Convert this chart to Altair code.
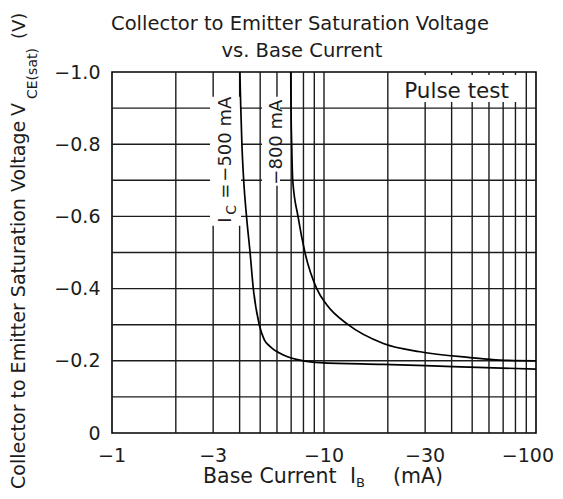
import altair as alt
import pandas as pd

# ---------------- data ----------------
# Base current IB (mA) and saturation voltage VCE(sat) (V)
ib_500 = [-4.01, -4.05, -4.10, -4.18, -4.31, -4.48, -4.64, -4.95, -5.23, -5.56, -6.43, -7.99, -9.58, -19.0, -40.6, -100.0]
vce_500 = [-1.0, -0.9, -0.8, -0.7, -0.6, -0.5, -0.4, -0.3, -0.258, -0.24, -0.216, -0.2, -0.195, -0.19, -0.184, -0.177]
ib_800 = [-6.97, -6.99, -7.04, -7.12, -7.54, -8.13, -9.24, -10.3, -13.0, -19.05, -28.4, -48.8, -67.6, -100.0]
vce_800 = [-1.0, -0.9, -0.8, -0.7, -0.6, -0.5, -0.4, -0.355, -0.3, -0.248, -0.225, -0.209, -0.202, -0.2]
ic_labels = ["-500 mA", "-800 mA"]

x_tick_values = [-1, -3, -10, -30, -100]
x_tick_labels = ["\u22121", "\u22123", "\u221210", "\u221230", "\u2212100"]
y_tick_values = [0, -0.2, -0.4, -0.6, -0.8, -1.0]
x_grid = [-2, -3, -4, -5, -6, -7, -8, -9, -10, -20, -30, -40, -50, -60, -70, -80, -90]
y_grid = [-0.1, -0.2, -0.3, -0.4, -0.5, -0.6, -0.7, -0.8, -0.9]

title_lines = ["Collector to Emitter Saturation Voltage", "vs. Base Current"]

# ---------------- layout / style ----------------
FONT = "DejaVu Sans"
INK = "#1c1c1c"
W, H = 424, 361

curves = pd.DataFrame({
    "IB": ib_500 + ib_800,
    "VCE": vce_500 + vce_800,
    "IC": [ic_labels[0]] * len(ib_500) + [ic_labels[1]] * len(ib_800),
})
curves["IBabs"] = -curves["IB"]

xscale = alt.Scale(type="log", domain=[1, 100], nice=False)
yscale = alt.Scale(domain=[0, -1], nice=False)

yaxis = alt.Axis(
    values=y_tick_values,
    labelExpr="datum.value == 0 ? '0' : '\u2212' + format(-datum.value, '.1f')",
    grid=False, ticks=False, tickSize=0, domain=False, title=None,
    labelFont=FONT, labelFontSize=19, labelColor=INK, labelPadding=12,
    labelOverlap=False, labelFlush=False, labelBound=False,
)


def X(field):
    return alt.X(field, type="quantitative", scale=xscale, axis=None)


def Y(field):
    return alt.Y(field, type="quantitative", scale=yscale, axis=yaxis)


grid_v = alt.Chart(pd.DataFrame({"g": [-v for v in x_grid]})).mark_rule(
    color=INK, strokeWidth=1.4
).encode(x=X("g"))

grid_h = alt.Chart(pd.DataFrame({"g": y_grid})).mark_rule(
    color=INK, strokeWidth=1.4
).encode(y=Y("g"))

# white backgrounds behind the in-plot labels (annotation geometry)
boxes = pd.DataFrame({
    "x1": [2.90, 5.10, 22.8],
    "x2": [4.06, 6.20, 84.1],
    "y1": [-0.9316, -0.9316, -0.992],
    "y2": [-0.574, -0.685, -0.917],
})
box_layer = alt.Chart(boxes).mark_rect(fill="white", stroke=None).encode(
    x=X("x1"), x2="x2", y=Y("y1"), y2="y2"
)

lines = alt.Chart(curves).mark_line(
    color="black", strokeWidth=1.7, interpolate="monotone"
).encode(x=X("IBabs"), y=Y("VCE"), detail="IC:N", order="IBabs:Q")

# x tick labels placed through the x scale
xt = pd.DataFrame({"v": [-v for v in x_tick_values], "t": x_tick_labels})
xticks_main = alt.Chart(xt.iloc[:-1]).mark_text(
    align="center", baseline="alphabetic", font=FONT, fontSize=19, color=INK
).encode(x=X("v"), y=alt.value(H + 29), text="t:N")
xticks_last = alt.Chart(xt.iloc[-1:]).mark_text(
    align="right", baseline="alphabetic", font=FONT, fontSize=19, color=INK, dx=18
).encode(x=X("v"), y=alt.value(H + 29), text="t:N")


def rot_text(ib, v, text, size, dx=0, dy=0):
    return alt.Chart(pd.DataFrame({"x": [ib], "y": [v]})).mark_text(
        text=text, angle=270, align="left", baseline="alphabetic",
        font=FONT, fontSize=size, color=INK, dx=dx, dy=dy
    ).encode(x=X("x"), y=Y("y"))


lab500 = [
    rot_text(3.64, -0.5826, "I", 18),
    rot_text(3.64, -0.5826, "C", 14, dx=8, dy=5),
    rot_text(3.64, -0.5826, "=", 18, dx=24),
    rot_text(3.64, -0.5826, "\u2212500 mA", 18, dx=41),
]
lab800 = [rot_text(6.34, -0.688, "\u2212800 mA", 18)]

pulse = alt.Chart(pd.DataFrame({"x": [42.2], "y": [-0.929]})).mark_text(
    text="Pulse test", align="center", baseline="alphabetic",
    font=FONT, fontSize=21.5, color=INK
).encode(x=X("x"), y=Y("y"))


def px_text(px, py, text, size, align="left", angle=0):
    kw = dict(text=text, align=align, baseline="alphabetic",
              font=FONT, fontSize=size, color=INK)
    if angle:
        kw["angle"] = angle
    return alt.Chart(pd.DataFrame({"k": [0]})).mark_text(**kw).encode(
        x=alt.value(px), y=alt.value(py)
    )


titles = [
    px_text(188, -42, title_lines[0], 19.5, align="center"),
    px_text(190, -15.5, title_lines[1], 19.5, align="center"),
    # x axis title
    px_text(91, 411, "Base Current", 20.5),
    px_text(238, 411, "I", 20.5),
    px_text(244, 415, "B", 13),
    px_text(281, 411, "(mA)", 20.5),
    # y axis title (rotated)
    px_text(-87, 417, "Collector to Emitter Saturation Voltage", 19, angle=270),
    px_text(-87, 44, "V", 19, angle=270),
    px_text(-75, 27, "CE(sat)", 14, angle=270),
    px_text(-87, -33, "(V)", 18, angle=270),
]

chart = alt.layer(
    grid_v, grid_h, box_layer, lines, xticks_main, xticks_last,
    *lab500, *lab800, pulse, *titles
).properties(
    width=W, height=H,
    autosize=alt.AutoSizeParams(type="none"),
    padding={"left": 104, "top": 64, "right": 19, "bottom": 58},
    background="white",
).configure_view(stroke="black", strokeWidth=1.6)

chart.save("out.html", embed_options={"renderer": "svg", "actions": False})
